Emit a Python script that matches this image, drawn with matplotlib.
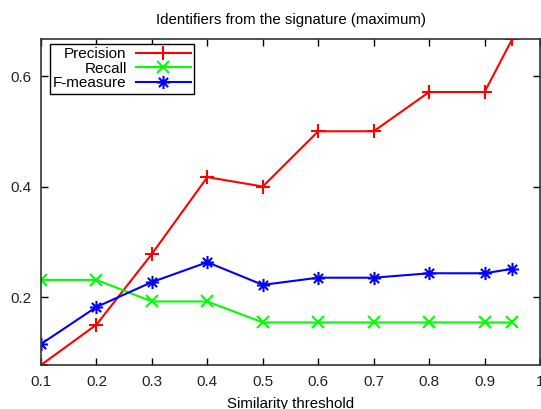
import matplotlib
matplotlib.use("Agg")
import matplotlib.pyplot as plt
from matplotlib.path import Path
import numpy as np

thresholds = [0.1, 0.2, 0.3, 0.4, 0.5, 0.6, 0.7, 0.8, 0.9, 0.95]
precision = [0.077, 0.15, 0.278, 0.417, 0.4, 0.5, 0.5, 0.571, 0.571, 0.667]
recall = [0.231, 0.231, 0.192, 0.192, 0.154, 0.154, 0.154, 0.154, 0.154, 0.154]
fmeasure = [0.115, 0.182, 0.227, 0.263, 0.222, 0.235, 0.235, 0.243, 0.243, 0.251]
xticks = [0.1, 0.2, 0.3, 0.4, 0.5, 0.6, 0.7, 0.8, 0.9, 1.0]
xtick_labels = ["0.1", "0.2", "0.3", "0.4", "0.5", "0.6", "0.7", "0.8", "0.9", "1"]
yticks = [0.2, 0.4, 0.6]
ytick_labels = ["0.2", "0.4", "0.6"]

plt.rcParams['font.family'] = ['Liberation Sans', 'DejaVu Sans']

star = Path([(-1, 0), (1, 0), (0, -1), (0, 1), (-0.7, -0.7), (0.7, 0.7), (-0.7, 0.7), (0.7, -0.7)],
            [Path.MOVETO, Path.LINETO] * 4)

fig = plt.figure(figsize=(5.41, 4.09), dpi=100)
ax = fig.add_axes([41/541, 1 - 365/409, (540-41)/541, (365-39)/409])

ax.plot(thresholds, precision, color='#ff0000', lw=1.5, marker='+', ms=10, mew=1.5, label='Precision')
ax.plot(thresholds, recall, color='#00ff00', lw=1.5, marker='x', ms=8, mew=1.5, label='Recall')
ax.plot(thresholds, fmeasure, color='#0000ff', lw=1.5, marker=star, ms=9.5, mew=1.5,
        mfc='none', mec='#0000ff', label='F-measure')

ax.set_xlim(0.1, 1.0)
ax.set_ylim(0.077, 0.667)
ax.set_xticks(xticks)
ax.set_xticklabels(xtick_labels)
ax.set_yticks(yticks)
ax.set_yticklabels(ytick_labels)
ax.tick_params(direction='in', top=True, right=True, length=5, width=1, labelsize=11, pad=7,
               labelcolor='#222222')
for s in ax.spines.values():
    s.set_linewidth(1.2)
    s.set_color('#333333')

ax.set_title("Identifiers from the signature (maximum)", fontsize=10.8, pad=11)
ax.set_xlabel("Similarity threshold", fontsize=10.8, labelpad=6)

leg = ax.legend(loc='upper left', markerfirst=False, fontsize=11, fancybox=False,
                edgecolor='black', framealpha=1, borderaxespad=0.0, handlelength=3.6,
                labelspacing=0.05, borderpad=0.2, handletextpad=0.6,
                bbox_to_anchor=(0.018, 0.985))
leg.get_frame().set_linewidth(1.0)
for t in leg.get_texts():
    t.set_ha('right')
leg._legend_box.align = 'right'

fig.savefig("out.png", dpi=100)
